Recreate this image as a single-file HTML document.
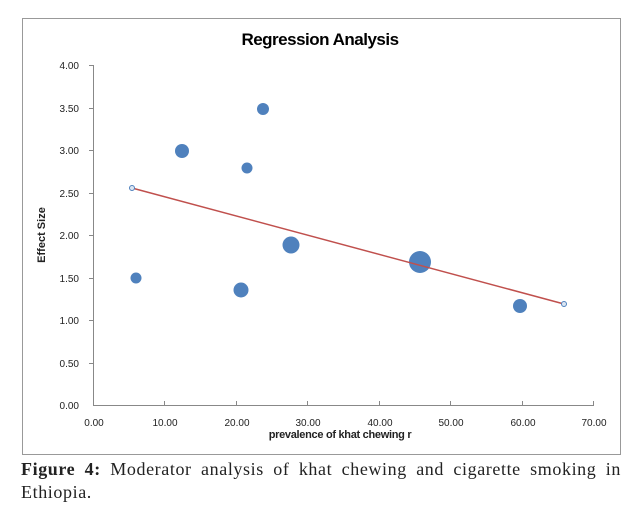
<!DOCTYPE html>
<html><head><style>
body{margin:0;background:#fff;width:637px;height:517px;overflow:hidden;position:relative}
.cap{position:absolute;left:21px;top:458px;width:600px;font-family:"Liberation Serif",serif;font-size:18px;letter-spacing:0.6px;line-height:23px;text-align:justify;text-align-last:left;color:#222}
</style></head><body>
<svg width="637" height="455" style="position:absolute;left:0;top:0" font-family="Liberation Sans, sans-serif">
<rect x="22.5" y="18.5" width="598" height="436" fill="#fff" stroke="#999"/>
<text x="320" y="45" text-anchor="middle" font-size="17" font-weight="bold" letter-spacing="-0.5">Regression Analysis</text>
<g stroke="#888" stroke-width="1">
<line x1="93.5" y1="65" x2="93.5" y2="405"/>
<line x1="93" y1="405.5" x2="594" y2="405.5"/>
</g>
<g stroke="#888">
<line x1="89" y1="65.5" x2="93" y2="65.5"/><line x1="89" y1="108.5" x2="93" y2="108.5"/><line x1="89" y1="150.5" x2="93" y2="150.5"/><line x1="89" y1="193.5" x2="93" y2="193.5"/><line x1="89" y1="235.5" x2="93" y2="235.5"/><line x1="89" y1="278.5" x2="93" y2="278.5"/><line x1="89" y1="320.5" x2="93" y2="320.5"/><line x1="89" y1="363.5" x2="93" y2="363.5"/>
<line x1="164.5" y1="401" x2="164.5" y2="405"/><line x1="236.5" y1="401" x2="236.5" y2="405"/><line x1="307.5" y1="401" x2="307.5" y2="405"/><line x1="379.5" y1="401" x2="379.5" y2="405"/><line x1="450.5" y1="401" x2="450.5" y2="405"/><line x1="522.5" y1="401" x2="522.5" y2="405"/><line x1="593.5" y1="401" x2="593.5" y2="405"/>
</g>
<g font-size="10" text-anchor="end" fill="#222">
<text x="79" y="69">4.00</text><text x="79" y="112">3.50</text><text x="79" y="154">3.00</text><text x="79" y="197">2.50</text><text x="79" y="239">2.00</text><text x="79" y="282">1.50</text><text x="79" y="324">1.00</text><text x="79" y="367">0.50</text><text x="79" y="409">0.00</text>
</g>
<g font-size="10" text-anchor="middle" fill="#222">
<text x="94" y="426">0.00</text><text x="165" y="426">10.00</text><text x="237" y="426">20.00</text><text x="308" y="426">30.00</text><text x="380" y="426">40.00</text><text x="451" y="426">50.00</text><text x="523" y="426">60.00</text><text x="594" y="426">70.00</text>
</g>
<text x="340" y="438" text-anchor="middle" font-size="11" font-weight="bold" fill="#222" letter-spacing="-0.3">prevalence of khat chewing r</text>
<text transform="translate(45,235) rotate(-90)" text-anchor="middle" font-size="11" font-weight="bold" fill="#222">Effect Size</text>
<g fill="#4f81bd">
<circle cx="263" cy="109" r="6"/>
<circle cx="182" cy="151" r="7"/>
<circle cx="247" cy="168" r="5.5"/>
<circle cx="291" cy="245" r="8.5"/>
<circle cx="420" cy="262" r="11"/>
<circle cx="136" cy="278" r="5.5"/>
<circle cx="241" cy="290" r="7.5"/>
<circle cx="520" cy="306" r="7"/>
</g>
<line x1="132" y1="188" x2="564" y2="304" stroke="#c0504d" stroke-width="1.5"/>
<circle cx="132" cy="188" r="2.5" fill="#dce6f2" stroke="#4f81bd"/>
<circle cx="564" cy="304" r="2.5" fill="#dce6f2" stroke="#4f81bd"/>
</svg>
<div class="cap"><b>Figure 4:</b> Moderator analysis of khat chewing and cigarette smoking in Ethiopia.</div>
</body></html>
